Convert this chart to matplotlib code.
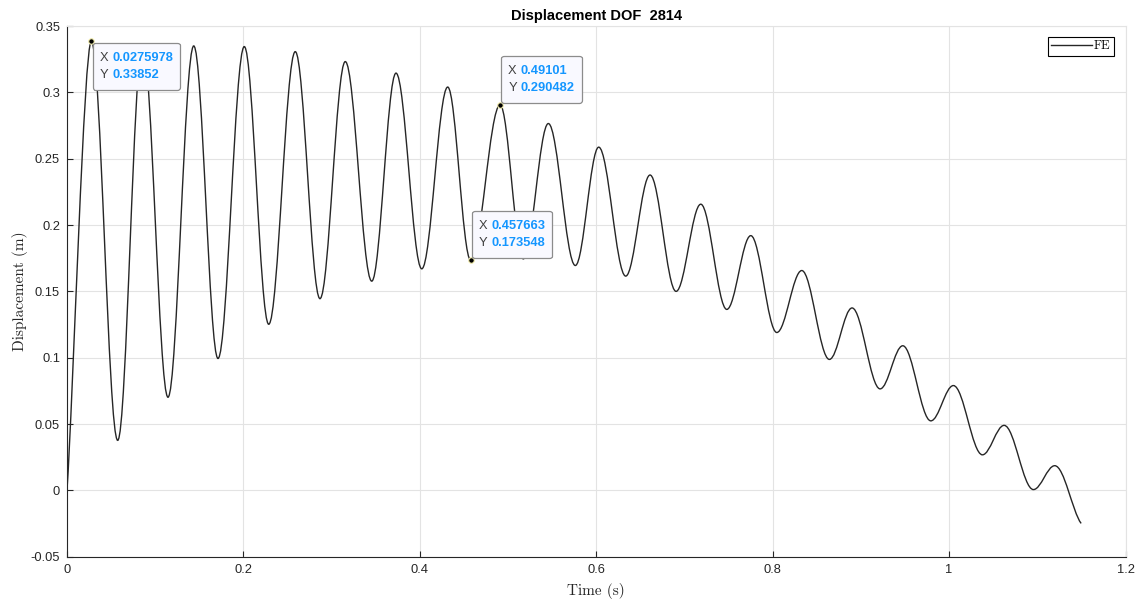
import matplotlib
matplotlib.use("Agg")
import matplotlib.pyplot as plt
from matplotlib.path import Path
from matplotlib.patches import PathPatch
from matplotlib.lines import Line2D
from matplotlib.offsetbox import AnnotationBbox, TextArea, HPacker, VPacker, DrawingArea

# Displacement history of DOF 2814, stored as its turning points
t_start, u_start = 0.0, 0.0
t_end, u_end = 1.1497, -0.0249

peak_t = [0.0275978, 0.0857, 0.1437, 0.2010, 0.2588, 0.3155, 0.3730, 0.4316, 0.49101, 0.5457,
          0.6028, 0.6610, 0.7185, 0.7752, 0.8330, 0.8900, 0.9475, 1.0049, 1.0624, 1.1198]
peak_u = [0.33852, 0.3360, 0.3350, 0.3345, 0.3307, 0.3232, 0.3145, 0.3040, 0.290482, 0.2765,
          0.2587, 0.2377, 0.2157, 0.1920, 0.1657, 0.1375, 0.1090, 0.0790, 0.0490, 0.0186]
trough_t = [0.0575, 0.1145, 0.1712, 0.2287, 0.2868, 0.3455, 0.4022, 0.457663, 0.5173, 0.5763,
            0.6334, 0.6905, 0.7480, 0.8047, 0.8643, 0.9218, 0.9793, 1.0378, 1.0956]
trough_u = [0.0377, 0.0702, 0.0994, 0.1252, 0.1445, 0.1577, 0.1670, 0.173548, 0.1745, 0.1695,
            0.1615, 0.1500, 0.1364, 0.1190, 0.0987, 0.0765, 0.0524, 0.0268, 0.0006]

# data tips: (x, y, box above point?)
tips = [(0.0275978, 0.33852, False), (0.49101, 0.290482, True), (0.457663, 0.173548, True)]
tip_text = [("0.0275978", "0.33852"), ("0.49101", "0.290482"), ("0.457663", "0.173548")]

ink = "#262626"
grid_c = "#e3e3e3"
tip_blue = "#1496ff"

plt.rcParams["font.family"] = ["Liberation Sans", "DejaVu Sans"]

fig = plt.figure(figsize=(11.43, 6.01), dpi=100)
ax = fig.add_axes([0.0586, 0.0737, 0.9261, 0.883])

# turning points in time order
pts = [(t_start, u_start)]
for i in range(len(peak_t)):
    pts.append((peak_t[i], peak_u[i]))
    if i < len(trough_t):
        pts.append((trough_t[i], trough_u[i]))
pts.append((t_end, u_end))

# cubic segments, flat at every extremum
verts = [pts[0]]
codes = [Path.MOVETO]
for k in range(1, len(pts)):
    (x0, y0), (x1, y1) = pts[k - 1], pts[k]
    dx, dy = x1 - x0, y1 - y0
    if k == 1:
        c1 = (x0 + 0.25 * dx, y0 + 0.2 * dy)
        c2 = (x1 - 0.3 * dx, y1)
    elif k == len(pts) - 1:
        c1 = (x0 + 0.36 * dx, y0)
        c2 = (x1 - dx / 3, y1 - 0.2 * dy)
    else:
        c1 = (x0 + 0.36 * dx, y0)
        c2 = (x1 - 0.36 * dx, y1)
    verts += [c1, c2, (x1, y1)]
    codes += [Path.CURVE4] * 3

curve = PathPatch(Path(verts, codes), facecolor="none", edgecolor=ink, lw=1.0, zorder=3)
ax.add_patch(curve)

ax.set_xlim(0, 1.2)
ax.set_ylim(-0.05, 0.35)
ax.set_xticks([0, 0.2, 0.4, 0.6, 0.8, 1, 1.2])
ax.set_xticklabels(["0", "0.2", "0.4", "0.6", "0.8", "1", "1.2"])
ax.set_yticks([-0.05, 0, 0.05, 0.1, 0.15, 0.2, 0.25, 0.3, 0.35])
ax.set_yticklabels(["-0.05", "0", "0.05", "0.1", "0.15", "0.2", "0.25", "0.3", "0.35"])
ax.grid(True, color=grid_c, lw=0.8)
ax.set_axisbelow(True)
ax.tick_params(direction="in", length=4, width=0.8, colors=ink, labelsize=9.3, pad=5)
for s in ["left", "bottom"]:
    ax.spines[s].set_color(ink)
    ax.spines[s].set_linewidth(0.8)
for s in ["top", "right"]:
    ax.spines[s].set_color(grid_c)
    ax.spines[s].set_linewidth(0.8)

ax.set_title("Displacement DOF  2814", fontsize=10.5, fontweight="bold", color="black", pad=4)
ax.set_xlabel("Time (s)", family="cmr10", fontsize=11, color=ink, labelpad=5)
ax.set_ylabel("Displacement (m)", family="cmr10", fontsize=11, color=ink, labelpad=2)

handle = Line2D([], [], color=ink, lw=1.0)
leg = ax.legend([handle], ["FE"], loc="upper right", bbox_to_anchor=(0.9887, 0.979),
                borderaxespad=0, handlelength=3.3, handletextpad=0.15, borderpad=0.25,
                fancybox=False, framealpha=1, edgecolor="black",
                prop={"family": "cmr10", "size": 9})
leg.get_frame().set_linewidth(0.8)

for (x, y, above), (xs, ys) in zip(tips, tip_text):
    ax.plot(x, y, "o", ms=4, mfc="black", mec="#f5f0b0", mew=0.8, zorder=5)
    rows = []
    for lab, val in (("X", xs), ("Y", ys)):
        rows.append(HPacker(children=[
            TextArea(lab, textprops=dict(color="#404040", size=9.3)),
            TextArea(val, textprops=dict(color=tip_blue, size=9.3, weight="bold"))],
            align="baseline", pad=0, sep=3))
    inner = VPacker(children=rows, align="left", pad=0, sep=3.6)
    box = VPacker(children=[DrawingArea(1, 1.9), inner, DrawingArea(1, 1.9)],
                  align="left", pad=4.8, sep=0)
    ab = AnnotationBbox(box, (x, y), xybox=(1.0, 1.3 if above else -1.0),
                        xycoords="data", boxcoords="offset points",
                        box_alignment=(0, 0 if above else 1), pad=0, frameon=True,
                        bboxprops=dict(boxstyle="round,pad=0,rounding_size=0.2",
                                       fc="#f9f9ff", ec="#8c8c8c", lw=0.9),
                        zorder=6)
    ax.add_artist(ab)

fig.savefig("out.png", dpi=100)
